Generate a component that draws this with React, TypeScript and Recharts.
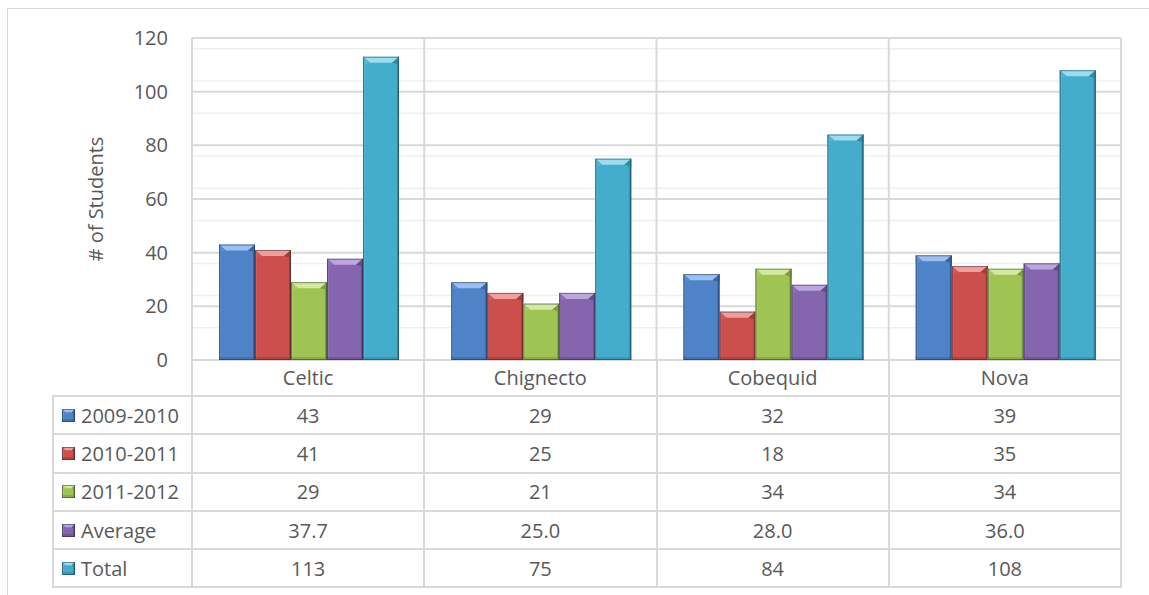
import { Bar, BarChart, CartesianGrid, XAxis, YAxis } from "recharts";

const categories = ["Celtic", "Chignecto", "Cobequid", "Nova"];
const year2009 = [43, 29, 32, 39];
const year2010 = [41, 25, 18, 35];
const year2011 = [29, 21, 34, 34];
const average = [37.7, 25.0, 28.0, 36.0];
const total = [113, 75, 84, 108];

const yTicks = [0, 20, 40, 60, 80, 100, 120];
const minorTicks = [
	4, 8, 12, 16, 24, 28, 32, 36, 44, 48, 52, 56, 64, 68, 72, 76, 84, 88, 92, 96,
	104, 108, 112, 116,
];

const series = [
	{ key: "y2009", name: "2009-2010", values: year2009, digits: 0 },
	{ key: "y2010", name: "2010-2011", values: year2010, digits: 0 },
	{ key: "y2011", name: "2011-2012", values: year2011, digits: 0 },
	{ key: "avg", name: "Average", values: average, digits: 1 },
	{ key: "total", name: "Total", values: total, digits: 0 },
];

// base / top bevel / left edge / right edge
const tones = [
	{ id: "b", base: "#4F83C8", light: "#9CC0EE", left: "#5A8DD0", right: "#3A67A3" },
	{ id: "r", base: "#CC4F4B", light: "#EE9E9B", left: "#D25B57", right: "#A13C39" },
	{ id: "g", base: "#A0C454", light: "#D3EA9E", left: "#A9CB60", right: "#7E9D3F" },
	{ id: "p", base: "#8565AE", light: "#BCA6DD", left: "#8F70B8", right: "#654C89" },
	{ id: "t", base: "#43ADCB", light: "#9BDCEE", left: "#4FB7D4", right: "#2F8CA8" },
];

const FONT = '"Open Sans", "Noto Sans", sans-serif';
const TEXT = "#595959";
const LINE = "#D9D9D9";

const chartData = categories.map((name, i) => {
	const row: Record<string, string | number> = { name };
	series.forEach((s) => {
		row[s.key] = s.values[i];
	});
	return row;
});

function BevelBar(props: any) {
	const { x, y, width: w, height: h, tone } = props;
	if (!h || h <= 0 || !w) return null;
	const t = Math.min(6, h / 2.5, w / 4);
	const s = Math.min(7, w / 4);
	const e = Math.min(2, w / 6);
	return (
		<g>
			<rect x={x} y={y} width={w} height={h} fill={tone.base} />
			<rect x={x} y={y} width={e} height={h} fill={tone.left} />
			<rect x={x + w - e} y={y} width={e} height={h} fill={tone.right} />
			<rect
				x={x}
				y={y + h - Math.min(3, h / 4)}
				width={w}
				height={Math.min(3, h / 4)}
				fill={tone.right}
				opacity={0.6}
			/>
			<polygon
				points={`${x},${y} ${x + w},${y} ${x + w - s},${y + t} ${x + s},${y + t}`}
				fill={tone.light}
			/>
			<polygon
				points={`${x},${y} ${x + s},${y + t} ${x},${y + t + 2}`}
				fill={tone.left}
			/>
			<polygon
				points={`${x + w},${y} ${x + w - s},${y + t} ${x + w},${y + t + 2}`}
				fill={tone.right}
			/>
			<rect
				x={x + 0.5}
				y={y + 0.5}
				width={w - 1}
				height={h - 1}
				fill="none"
				stroke="rgba(20,30,50,0.45)"
				strokeWidth={1}
			/>
		</g>
	);
}

function Marker({ tone }: { tone: (typeof tones)[number] }) {
	return (
		<svg width={13} height={13} style={{ display: "block" }}>
			<BevelBar x={0} y={0} width={13} height={13} tone={tone} />
		</svg>
	);
}

const PLOT_LEFT = 192;
const PLOT_RIGHT = 1121;
const COL_W = (PLOT_RIGHT - PLOT_LEFT) / categories.length;
const ROW_H = 38.3;

function DataTable() {
	const cell = (extra: React.CSSProperties = {}): React.CSSProperties => ({
		boxSizing: "border-box",
		height: ROW_H,
		borderRight: `2px solid ${LINE}`,
		borderBottom: `2px solid ${LINE}`,
		display: "flex",
		alignItems: "center",
		justifyContent: "center",
		color: TEXT,
		fontFamily: FONT,
		fontSize: 20,
		...extra,
	});
	return (
		<div
			style={{
				position: "absolute",
				left: 52,
				top: 360,
				display: "grid",
				gridTemplateColumns: `${PLOT_LEFT - 52 + 1}px repeat(${categories.length}, ${COL_W}px)`,
			}}
		>
			<div style={cell({ height: 37 })} />
			{categories.map((c) => (
				<div key={c} style={cell({ height: 37 })} />
			))}
			{series.map((s, si) => (
				<>
					<div
						key={s.key}
						style={cell({
							borderLeft: `2px solid ${LINE}`,
							justifyContent: "flex-start",
							paddingLeft: 8,
							gap: 6,
						})}
					>
						<Marker tone={tones[si]} />
						<span>{s.name}</span>
					</div>
					{s.values.map((v, i) => (
						<div key={`${s.key}-${i}`} style={cell()}>
							{v.toFixed(s.digits)}
						</div>
					))}
				</>
			))}
		</div>
	);
}

export default function App() {
	return (
		<div
			style={{
				position: "absolute",
				left: 0,
				top: 0,
				width: 1149,
				height: 595,
				overflow: "hidden",
				background: "#fff",
			}}
		>
			<div
				style={{
					position: "absolute",
					left: 7,
					top: 8,
					width: 1200,
					height: 700,
					border: `1px solid ${LINE}`,
				}}
			/>
			<DataTable />
			<div style={{ position: "absolute", left: 0, top: 0 }}>
				<BarChart
					width={1149}
					height={397}
					data={chartData}
					margin={{ top: 38, right: 28, left: 0, bottom: 0 }}
					barCategoryGap={27}
					barGap={0}
				>
					<CartesianGrid
						vertical={false}
						horizontalValues={minorTicks}
						stroke="#EFEFEF"
						strokeWidth={1.5}
					/>
					<CartesianGrid
						horizontalValues={yTicks}
						stroke={LINE}
						strokeWidth={2}
						verticalCoordinatesGenerator={({ offset }: any) =>
							[...categories, ""].map(
								(_, i) => offset.left + (i * offset.width) / categories.length,
							)
						}
					/>
					<XAxis
						dataKey="name"
						height={37}
						axisLine={false}
						tickLine={false}
						tickSize={0}
						tickMargin={11}
						tick={{ fontSize: 20, fill: TEXT, fontFamily: FONT }}
					/>
					<YAxis
						width={192}
						domain={[0, 120]}
						ticks={yTicks}
						axisLine={false}
						tickLine={false}
						tickSize={0}
						tickMargin={24}
						tick={{ fontSize: 20, fill: TEXT, fontFamily: FONT }}
						label={{
							value: "# of Students",
							angle: -90,
							position: "center",
							style: { fontSize: 20, fill: TEXT, fontFamily: FONT },
						}}
					/>
					{series.map((s, si) => (
						<Bar
							key={s.key}
							dataKey={s.key}
							name={s.name}
							isAnimationActive={false}
							shape={(p: any) => <BevelBar {...p} tone={tones[si]} />}
						/>
					))}
				</BarChart>
			</div>
		</div>
	);
}
